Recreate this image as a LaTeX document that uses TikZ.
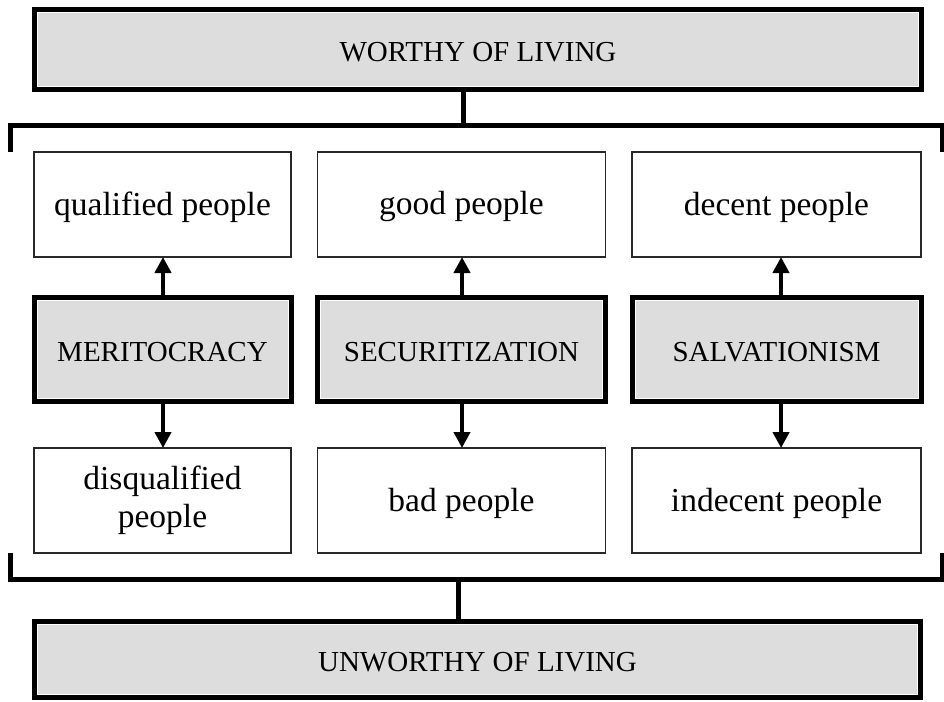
\documentclass[tikz,border=0pt]{standalone}
\usepackage{fontspec}
\setmainfont{Liberation Serif}
\usetikzlibrary{arrows.meta}
\definecolor{boxgray}{RGB}{221,221,221}
\definecolor{thinline}{RGB}{40,40,40}
\tikzset{
  % heavy grey boxes with a fine white rule just inside the black frame
  heavybox/.style={draw=black, fill=boxgray, line width=5pt, inner sep=0pt, outer sep=0pt,
    path picture={\draw[white, line width=1pt]
      ([shift={(3pt,-3pt)}]path picture bounding box.north west) rectangle
      ([shift={(-3pt,3pt)}]path picture bounding box.south east);}},
  % struts lower the text a little inside each box
  thinbox/.style={draw=thinline, fill=white, line width=1.5pt, inner sep=0pt, outer sep=0pt,
    align=center, font=\fontsize{33.5}{38}\selectfont,
    execute at begin node={\rule{0pt}{28.2pt}}},
  headtext/.style={font=\fontsize{29}{34}\selectfont, execute at begin node={\rule{0pt}{25pt}}},
  conceptbox/.style={heavybox, font=\fontsize{29}{34}\selectfont, execute at begin node={\rule{0pt}{24.4pt}}},
  bar/.style={line width=5pt, draw=black},
  linkarrow/.style={line width=4.5pt, -{Triangle[length=16pt, width=16pt]}}
}
\begin{document}
\begin{tikzpicture}[x=1pt, y=-1pt]
\useasboundingbox (0,0) rectangle (944,701);

% outcome boxes
\node[heavybox, headtext, minimum width=887pt, minimum height=80pt] (worthy) at (478,49.5) {WORTHY OF LIVING};
\node[heavybox, headtext, minimum width=886pt, minimum height=76pt] (unworthy) at (477.5,659.5) {UNWORTHY OF LIVING};

% upper row
\node[thinbox, minimum width=257pt, minimum height=105pt] (q1) at (162.5,204.5) {qualified people};
\node[thinbox, minimum width=288pt, minimum height=105pt] (q2) at (461.5,204.5) {good people};
\node[thinbox, minimum width=289pt, minimum height=105pt] (q3) at (776.5,204.5) {decent people};

% concepts
\node[conceptbox, minimum width=257pt, minimum height=104pt] (m1) at (162.5,349.5) {MERITOCRACY};
\node[conceptbox, minimum width=288pt, minimum height=104pt] (m2) at (461.5,349.5) {SECURITIZATION};
\node[conceptbox, minimum width=289pt, minimum height=104pt] (m3) at (776.5,349.5) {SALVATIONISM};

% lower row
\node[thinbox, minimum width=257pt, minimum height=105pt] (d1) at (162.5,500.5) {disqualified\\people};
\node[thinbox, minimum width=288pt, minimum height=105pt] (d2) at (461.5,500.5) {bad people};
\node[thinbox, minimum width=289pt, minimum height=105pt] (d3) at (776.5,500.5) {indecent people};

% arrows from each concept
\draw[linkarrow] ([xshift=0.5pt]m1.north) -- ([xshift=0.5pt]q1.south);
\draw[linkarrow] ([xshift=0.5pt]m2.north) -- ([xshift=0.5pt]q2.south);
\draw[linkarrow] ([xshift=4.5pt]m3.north) -- ([xshift=4.5pt]q3.south);
\draw[linkarrow] ([xshift=0.5pt]m1.south) -- ([xshift=0.5pt]d1.north);
\draw[linkarrow] ([xshift=0.5pt]m2.south) -- ([xshift=0.5pt]d2.north);
\draw[linkarrow] ([xshift=4.5pt]m3.south) -- ([xshift=4.5pt]d3.north);

% brackets around the three columns
\coordinate (tl) at (10,152);
\coordinate (tr) at (942,152);
\coordinate (bl) at (10,553);
\coordinate (br) at (942,553);
\coordinate (tjoin) at (463,125);
\coordinate (bjoin) at (458,579.5);
\draw[bar] (tl) -- (tl |- tjoin) -- (tr |- tjoin) -- (tr);
\draw[bar] (bl) -- (bl |- bjoin) -- (br |- bjoin) -- (br);

% links to the outcome boxes
\draw[bar] (tjoin |- worthy.south) -- (tjoin);
\draw[bar] (bjoin) -- (bjoin |- unworthy.north);
\end{tikzpicture}
\end{document}
